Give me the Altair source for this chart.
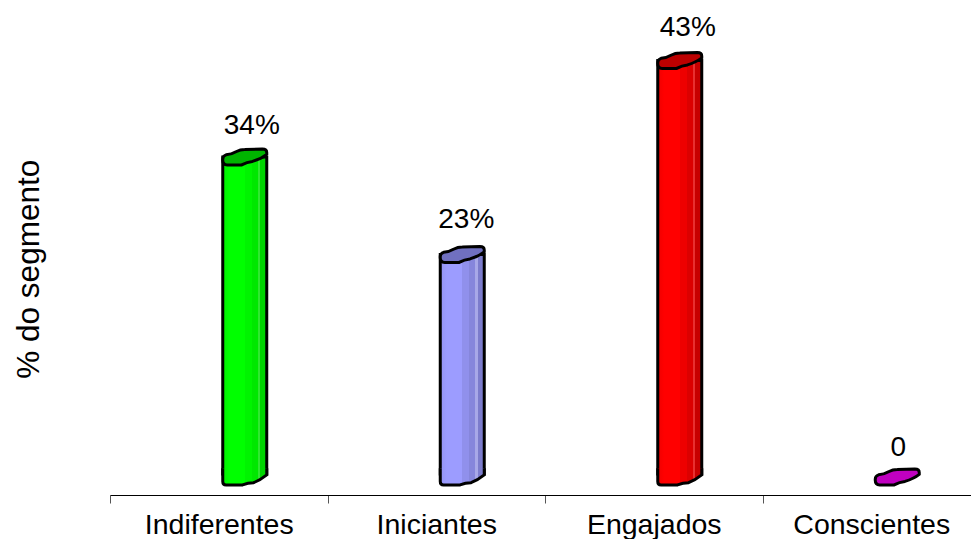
import altair as alt
import pandas as pd

categories = ["Indiferentes", "Iniciantes", "Engajados", "Conscientes"]
values = [34, 23, 43, 0]
labels = ["34%", "23%", "43%", "0"]
axis_title = "% do segmento"

FONT = "Liberation Sans"
BAR_SHIFT = 26
BAR_WIDTH = 44
EDGE = 3

# Top face and lower rim of a cylinder, in symbol units (half the bar width = 1).
CAP = (
    "M-1,0.1 Q-1,-0.05 -0.85,-0.1 Q-0.6,-0.12 -0.4,-0.24 Q-0.2,-0.34 0,-0.34 "
    "L0.8,-0.36 Q1,-0.36 1,-0.2 L1,-0.12 Q0.75,0.08 0.35,0.2 Q0.1,0.22 -0.14,0.36 "
    "L-0.8,0.36 Q-1,0.36 -1,0.15 Z"
)
RIM_FILL = (
    "M-1,-0.4 L1,-0.4 L1,-0.1 Q0.7,0.14 0.4,0.26 Q0.15,0.26 -0.1,0.36 "
    "L-0.85,0.36 Q-1,0.36 -1,0.2 Z"
)
RIM_LINE = (
    "M-1,-0.4 L-1,0.2 Q-1,0.36 -0.85,0.36 L-0.1,0.36 Q0.15,0.26 0.4,0.26 "
    "Q0.7,0.14 1,-0.1 L1,-0.4"
)


def shaded(stops):
    return alt.Gradient(
        gradient="linear", x1=0, x2=1, y1=0, y2=0,
        stops=[alt.GradientStop(offset=o, color=c) for o, c in stops],
    )


def banded(c0, c1, c2, c3, stripe, c4):
    # Facets of the cylinder: a broad lit face, darker strips and one thin highlight.
    return shaded([
        (0, c0), (0.15, c1), (0.5, c1), (0.5, c2), (0.66, c2), (0.66, c3), (0.8, c3),
        (0.8, stripe), (0.85, stripe), (0.85, c4), (1, c4),
    ])


palette = {
    "Indiferentes": (banded("#00f000", "#00ff00", "#00f400", "#00e800", "#30e830", "#00d400"), "#00b400"),
    "Iniciantes": (banded("#9494f4", "#9c9cff", "#9090ec", "#8686dc", "#a8a8e8", "#7c7ccc"), "#7070c0"),
    "Engajados": (banded("#f00000", "#ff0000", "#ee0000", "#dc0000", "#e83030", "#c80000"), "#bc0000"),
    "Conscientes": ("#c000c0", "#c000c0"),
}
label_nudge_x = {"Indiferentes": 7, "Iniciantes": 4, "Engajados": 8, "Conscientes": 1}
label_nudge_y = {"Indiferentes": 1, "Iniciantes": -3, "Engajados": -1, "Conscientes": 3}

table = pd.DataFrame({"categoria": categories, "valor": values, "rotulo": labels})

value_scale = alt.Scale(domain=[0, 23, 34, 43], range=[477, 254.5, 157, 60.5], nice=False, zero=False)
value_axis = alt.Axis(
    labels=False, ticks=False, domain=False, grid=False,
    titleFont=FONT, titleFontSize=31.5, titleFontWeight="normal", titleColor="#000000",
    titlePadding=65,
)

x = alt.X(
    "categoria:N",
    sort=categories,
    title=None,
    scale=alt.Scale(range=[0, 870], paddingInner=0, paddingOuter=0),
    axis=alt.Axis(
        labelAngle=0, labelFont=FONT, labelFontSize=28.5, labelColor="#000000",
        labelPadding=7, labelLimit=400, labelOverlap=False, labelFlush=False,
        domainColor="#000000", domainWidth=1, tickColor="#555555", tickSize=8,
        tickWidth=1, tickBand="extent", grid=False,
    ),
)
y = alt.Y("valor:Q", title=axis_title, scale=value_scale, axis=value_axis)
y_base = alt.Y("base:Q", title=axis_title, scale=value_scale, axis=value_axis)

layers = []
for name in categories:
    one = alt.Chart(table).transform_filter(alt.datum.categoria == name)
    body, top = palette[name]
    if table.set_index("categoria").loc[name, "valor"] > 0:
        layers.append(
            one.transform_calculate(base="0").mark_bar(
                width=BAR_WIDTH, xOffset=BAR_SHIFT, fill=body, stroke="#000000",
                strokeWidth=EDGE, y2Offset=-3,
            ).encode(x=x, y=y, y2="base:Q")
        )
        layers.append(
            one.transform_calculate(base="0").mark_point(
                shape=RIM_FILL, size=BAR_WIDTH ** 2, xOffset=BAR_SHIFT, fill=body,
                filled=True, opacity=1, strokeWidth=0,
            ).encode(x=x, y=y_base)
        )
        layers.append(
            one.transform_calculate(base="0").mark_point(
                shape=RIM_LINE, size=BAR_WIDTH ** 2, xOffset=BAR_SHIFT, filled=False,
                fill=None, stroke="#000000", strokeWidth=EDGE, opacity=1,
            ).encode(x=x, y=y_base)
        )
    layers.append(
        one.mark_point(
            shape=CAP, size=BAR_WIDTH ** 2, xOffset=BAR_SHIFT, fill=top, filled=True,
            stroke="#000000", strokeWidth=EDGE, opacity=1,
        ).encode(x=x, y=y)
    )
    layers.append(
        one.mark_text(
            font=FONT, fontSize=28, color="#000000", baseline="middle", align="center",
            xOffset=BAR_SHIFT + label_nudge_x[name], yOffset=-32 + label_nudge_y[name],
        ).encode(x=x, y=y, text="rotulo:N")
    )

chart = (
    alt.layer(*layers)
    .properties(
        width=861, height=495,
        autosize=alt.AutoSizeParams(type="none"),
        padding={"left": 110, "top": 0, "right": 0, "bottom": 44},
        background="#ffffff",
    )
    .configure_view(stroke=None)
)

chart.save("out.html", embed_options={"renderer": "svg", "actions": False})
